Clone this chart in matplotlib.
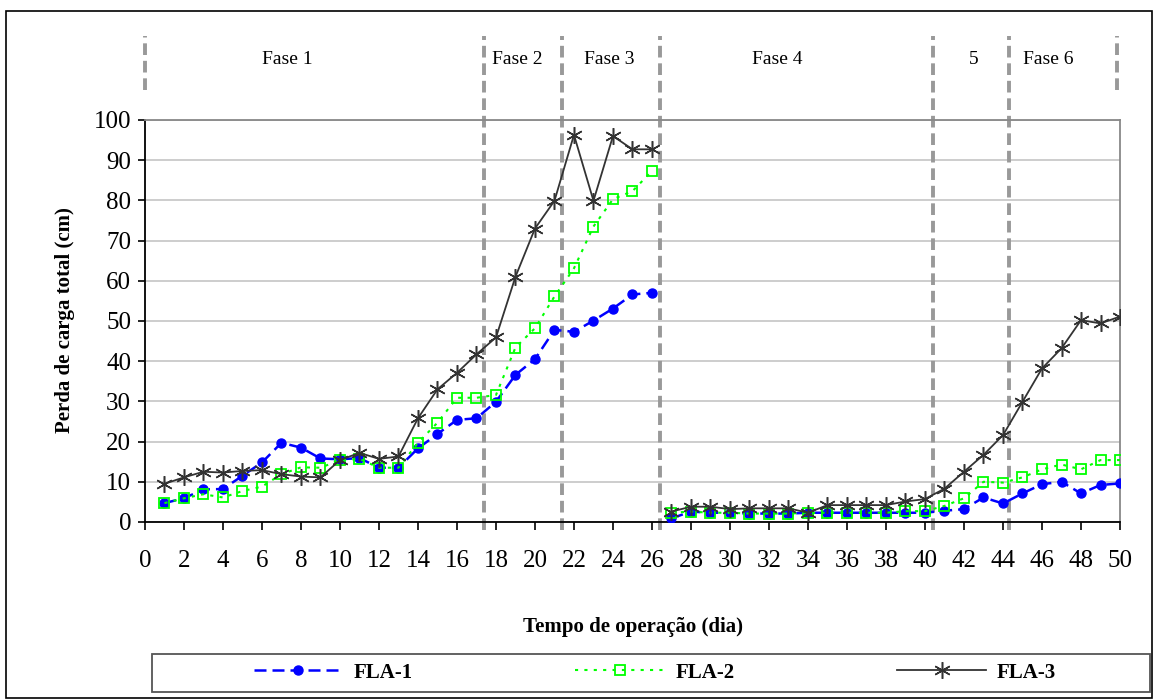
import numpy as np
import matplotlib
matplotlib.use("Agg")
import matplotlib.pyplot as plt
import matplotlib.transforms as mtransforms
from matplotlib.patches import Rectangle

# Data
dias = np.arange(1, 51)
fla1 = [4.7, 5.9, 8.1, 8.2, 11.5, 14.8, 19.7, 18.5, 15.8, 15.6,
        15.9, 13.5, 13.5, 18.3, 21.9, 25.4, 25.8, 29.9, 36.6, 40.5,
        47.8, 47.3, 50.1, 53.1, 56.6, 57.0, 0.9, 2.6, 2.3, 2.3,
        2.1, 2.1, 2.1, 2.3, 2.3, 2.3, 2.3, 2.3, 2.3, 2.3,
        2.8, 3.2, 6.1, 4.6, 7.1, 9.4, 10.0, 7.1, 9.2, 9.6]
fla2 = [4.7, 5.9, 6.9, 6.1, 7.7, 8.8, 11.9, 13.6, 13.5, 15.4,
        15.7, 13.5, 13.5, 19.7, 24.7, 30.9, 30.9, 31.6, 43.4, 48.2,
        56.1, 63.1, 73.5, 80.3, 82.3, 87.3, 2.3, 2.6, 2.3, 2.3,
        2.1, 2.1, 2.1, 2.3, 2.3, 2.3, 2.3, 2.3, 2.7, 2.7,
        4.0, 5.9, 10.0, 9.8, 11.1, 13.1, 14.3, 13.1, 15.4, 15.4]
fla3 = [9.5, 11.1, 12.5, 12.3, 12.7, 12.9, 11.9, 11.3, 11.1, 15.4,
        17.2, 15.7, 16.3, 25.8, 33.0, 37.1, 41.7, 45.9, 61.0, 73.0,
        79.9, 96.3, 79.9, 96.0, 92.7, 92.7, 2.6, 3.8, 3.8, 3.2,
        3.4, 3.4, 3.4, 2.3, 4.2, 4.2, 4.2, 4.2, 5.1, 5.7,
        8.3, 12.5, 16.7, 21.6, 29.9, 38.2, 43.2, 50.2, 49.4, 51.1]

fases = ["Fase 1", "Fase 2", "Fase 3", "Fase 4", "5", "Fase 6"]
fase_pos = [7.3, 19.1, 23.8, 32.4, 42.5, 46.3]
limites = [17.4, 21.4, 26.4, 40.4, 44.3]
limites_ext = [0.0, 49.85]
corte = 26  # the series are not joined between day 26 and day 27

plt.rcParams['font.family'] = ['Liberation Serif', 'DejaVu Serif']

fig = plt.figure(figsize=(11.55, 7), dpi=100)
ax = fig.add_axes([0.1255, 0.2543, 0.8442, 0.5743])

estilos = [
    dict(color='#0000ff', linestyle=(0, (4.8, 2.4)), lw=1.8, marker='o',
         markersize=6.5, markerfacecolor='#0000ff', markeredgecolor='#0000ff', zorder=3),
    dict(color='#00ff00', linestyle=(0, (1.5, 3)), lw=1.5, marker='s',
         markersize=6.5, markerfacecolor='none', markeredgecolor='#00ff00',
         markeredgewidth=1.3, zorder=4),
    dict(color='#333333', linestyle='-', lw=1.3, marker=(6, 2, 0),
         markersize=12, markeredgewidth=1.1, zorder=5),
]
linhas = []
for serie, nome, st in zip([fla1, fla2, fla3], ['FLA-1', 'FLA-2', 'FLA-3'], estilos):
    serie = np.array(serie)
    l, = ax.plot(dias[:corte], serie[:corte], label=nome, **st)
    ax.plot(dias[corte:], serie[corte:], **st)
    linhas.append(l)

ax.set_xlim(0, 50)
ax.set_ylim(0, 100)
ax.set_xticks(np.arange(0, 51, 2))
ax.set_yticks(np.arange(0, 101, 10))
ax.tick_params(axis='x', direction='out', length=6, width=1.2, pad=14, labelsize=18)
ax.tick_params(axis='y', direction='out', length=5, width=1.2, pad=5, labelsize=18)
ax.grid(axis='y', color='#c0c0c0', lw=1.1)
ax.set_axisbelow(True)
for s in ['left', 'bottom']:
    ax.spines[s].set_color('black')
    ax.spines[s].set_linewidth(1.3)
for s in ['top', 'right']:
    ax.spines[s].set_color('#888888')
    ax.spines[s].set_linewidth(1.3)

trans = mtransforms.blended_transform_factory(ax.transData, ax.transAxes)
for x in limites:
    ax.plot([x, x], [-0.02, 1.21], transform=trans, color='#999999', lw=2.8,
            linestyle=(0, (3, 1.5)), clip_on=False, zorder=2)
for x in limites_ext:
    ax.plot([x, x], [1.075, 1.21], transform=trans, color='#999999', lw=2.8,
            linestyle=(0, (3, 1.5)), clip_on=False, zorder=2)
for nome, x in zip(fases, fase_pos):
    ax.text(x, 1.15, nome, transform=trans, ha='center', va='center', fontsize=14)

fig.text(0.056, 0.543, 'Perda de carga total (cm)', rotation=90, ha='center',
         va='center', fontsize=15, fontweight='bold')
fig.text(0.548, 0.104, 'Tempo de operação (dia)', ha='center', va='center',
         fontsize=15, fontweight='bold')

# legend box
fig.patches.append(Rectangle((0.1316, 0.0114), 0.864, 0.054, transform=fig.transFigure,
                             fill=False, edgecolor='#555555', lw=1.3))
leg = fig.legend(handles=linhas, loc='center', bbox_to_anchor=(0.567, 0.039),
                 ncol=3, frameon=False, handlelength=4.3, handletextpad=0.5,
                 columnspacing=7.8, borderaxespad=0,
                 prop={'weight': 'bold', 'size': 15})

fig.patches.append(Rectangle((0.005, 0.003), 0.992, 0.982, transform=fig.transFigure,
                             fill=False, edgecolor='black', lw=1.2))

fig.savefig('out.png', dpi=100)
